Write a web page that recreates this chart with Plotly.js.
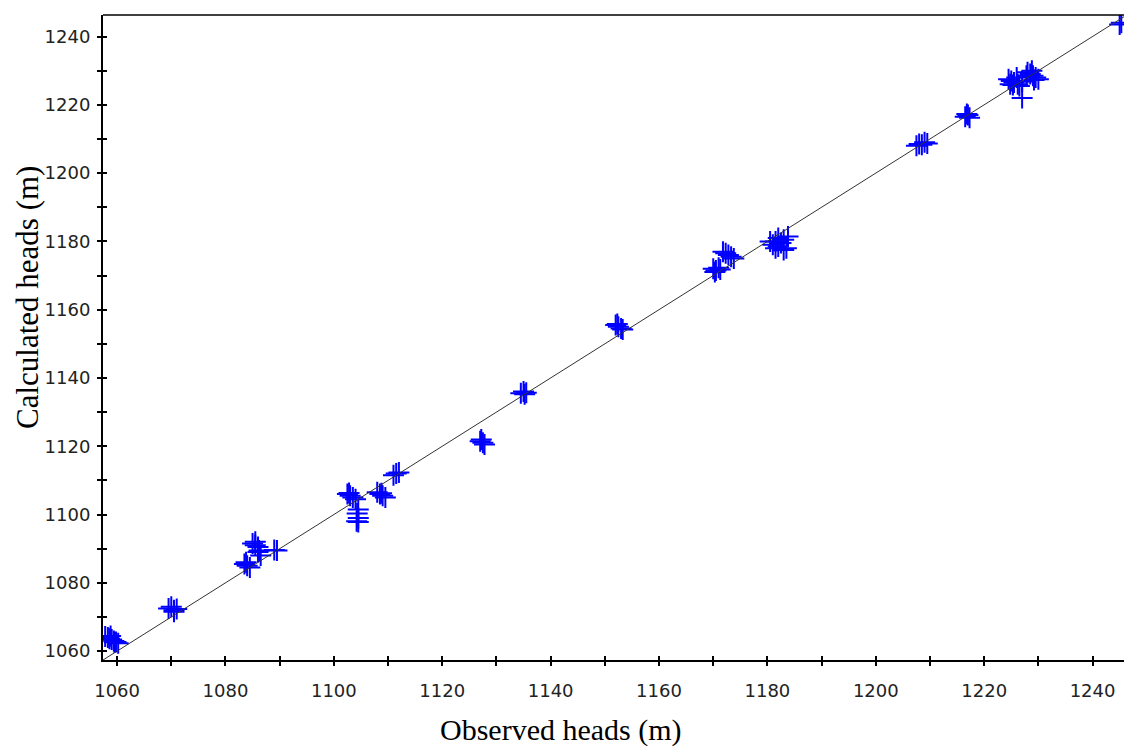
<!DOCTYPE html>
<html>
<head>
<meta charset="utf-8">
<script src="https://cdn.plot.ly/plotly-3.0.1.min.js"></script>
<style>html,body{margin:0;padding:0;background:#fff;}#chart{width:1124px;height:749px;}</style>
</head>
<body>
<div id="chart"></div>
<script>
// Observed vs calculated heads (m)
var observedHeads = [
  1057.8, 1058.3, 1058.6, 1059.0, 1059.4, 1059.8, 1060.2, 1058.8, 1059.5,
  1069.5, 1070.5, 1070.0, 1071.0, 1070.5,
  1083.5, 1084.0, 1084.5, 1083.8,
  1085.0, 1085.5, 1086.0, 1085.5,
  1086.0, 1086.5, 1086.2,
  1089.5, 1089.0,
  1102.5, 1103.0, 1103.5, 1104.0, 1102.8,
  1104.5, 1104.3, 1104.5, 1104.2, 1104.5,
  1108.0, 1108.5, 1109.0, 1109.5, 1108.8,
  1111.0, 1111.5, 1112.0,
  1127.0, 1127.5, 1127.8, 1127.2,
  1134.5, 1135.0, 1135.5, 1135.2,
  1152.0, 1152.5, 1153.0, 1153.3, 1152.3,
  1170.0, 1170.5, 1171.0, 1171.3, 1170.3,
  1171.8, 1172.3, 1172.8, 1173.3, 1173.8,
  1181.0, 1181.5, 1182.0, 1182.5, 1183.0, 1183.5, 1181.5, 1182.0, 1183.0, 1180.5, 1183.8,
  1207.5, 1208.0, 1208.5, 1209.0, 1209.5,
  1216.5, 1217.0, 1217.3, 1216.8,
  1224.5, 1225.0, 1225.5, 1226.0, 1224.8, 1225.3, 1226.2, 1226.5, 1227.0,
  1227.0,
  1228.0, 1228.5, 1229.0, 1229.5, 1230.0, 1228.8, 1229.2, 1227.8,
  1245.0, 1245.3
];
var calculatedHeads = [
  1064.3, 1064.0, 1063.6, 1063.4, 1063.0, 1062.7, 1062.3, 1064.4, 1062.6,
  1072.5, 1072.0, 1073.0, 1072.3, 1071.5,
  1085.5, 1085.0, 1084.5, 1086.0,
  1091.5, 1091.0, 1090.5, 1092.0,
  1089.0, 1088.0, 1089.5,
  1089.5, 1089.6,
  1106.0, 1105.5, 1105.0, 1104.5, 1106.3,
  1101.5, 1100.3, 1099.0, 1098.0, 1097.8,
  1106.5, 1106.0, 1105.5, 1105.0, 1106.2,
  1111.5, 1112.0, 1112.3,
  1121.5, 1121.0, 1120.5, 1122.0,
  1135.5, 1136.0, 1135.7, 1135.2,
  1155.5, 1155.0, 1154.5, 1154.2, 1155.8,
  1172.0, 1171.5, 1172.3, 1171.8, 1171.0,
  1177.0, 1176.5, 1176.0, 1175.5, 1175.0,
  1179.0, 1180.0, 1178.5, 1179.5, 1180.5, 1178.0, 1178.0, 1181.0, 1177.5, 1180.0, 1181.4,
  1208.0, 1208.5, 1208.3, 1209.0, 1208.7,
  1216.5, 1217.0, 1216.2, 1217.3,
  1227.5, 1227.0, 1226.5, 1228.0, 1226.0, 1225.8, 1226.0, 1225.5, 1226.8,
  1222.0,
  1229.5, 1229.0, 1228.5, 1228.0, 1227.5, 1230.0, 1227.3, 1228.5,
  1243.5, 1244.0
];
// 1:1 reference line
var lineX = [1057.4, 1246.3];
var lineY = [1057.4, 1246.3];

var xRange = [1057.4, 1245.8];
var yRange = [1057.4, 1246.3];
var tickFont = {family: 'DejaVu Sans', size: 18, color: '#222'};

var traces = [
  {x: lineX, y: lineY, type: 'scatter', mode: 'lines',
   line: {color: '#333', width: 1}, hoverinfo: 'skip', xaxis: 'x2', yaxis: 'y2'},
  {x: observedHeads, y: calculatedHeads, type: 'scatter', mode: 'markers',
   marker: {symbol: 'cross-thin-open', size: 15, color: 'rgb(0,0,255)',
            line: {color: 'rgb(0,0,255)', width: 2}}}
];

function baseAxis(extra) {
  var a = {
    showgrid: false, zeroline: false, showline: true, linecolor: '#000', linewidth: 2,
    ticks: 'outside', ticklen: 4, tickwidth: 2, tickcolor: '#000', dtick: 20, tick0: 1060,
    minor: {dtick: 10, tick0: 1060, ticks: 'outside', ticklen: 4, tickwidth: 2, tickcolor: '#000'},
    tickfont: tickFont, fixedrange: true
  };
  for (var k in extra) a[k] = extra[k];
  return a;
}

var layout = {
  width: 1124, height: 749,
  margin: {l: 103, r: 0, t: 15, b: 89},
  paper_bgcolor: '#fff', plot_bgcolor: '#fff',
  showlegend: false,
  xaxis: baseAxis({range: xRange, ticklabelstandoff: 9}),
  yaxis: baseAxis({range: yRange, ticklabelstandoff: 3}),
  xaxis2: baseAxis({range: xRange, overlaying: 'x', showticklabels: false, ticks: 'inside',
    minor: {dtick: 10, tick0: 1060, ticks: 'inside', ticklen: 4, tickwidth: 2, tickcolor: '#000'}}),
  yaxis2: baseAxis({range: yRange, overlaying: 'y', showticklabels: false, ticks: 'inside',
    minor: {dtick: 10, tick0: 1060, ticks: 'inside', ticklen: 4, tickwidth: 2, tickcolor: '#000'}}),
  shapes: [
    {type: 'line', xref: 'paper', yref: 'paper', x0: 0, x1: 1, y0: 1, y1: 1,
     line: {color: '#000', width: 1.5}}
  ],
  annotations: [
    {text: 'Observed heads (m)', xref: 'paper', yref: 'paper', x: 0.449, y: -0.108,
     xanchor: 'center', yanchor: 'middle', showarrow: false,
     font: {family: 'Liberation Serif', size: 30, color: '#000'}},
    {text: 'Calculated heads (m)', xref: 'paper', yref: 'paper', x: -0.074, y: 0.562,
     xanchor: 'center', yanchor: 'middle', showarrow: false, textangle: -90,
     font: {family: 'Liberation Serif', size: 31, color: '#000'}}
  ]
};

Plotly.newPlot('chart', traces, layout, {displayModeBar: false, staticPlot: true});
</script>
</body>
</html>
